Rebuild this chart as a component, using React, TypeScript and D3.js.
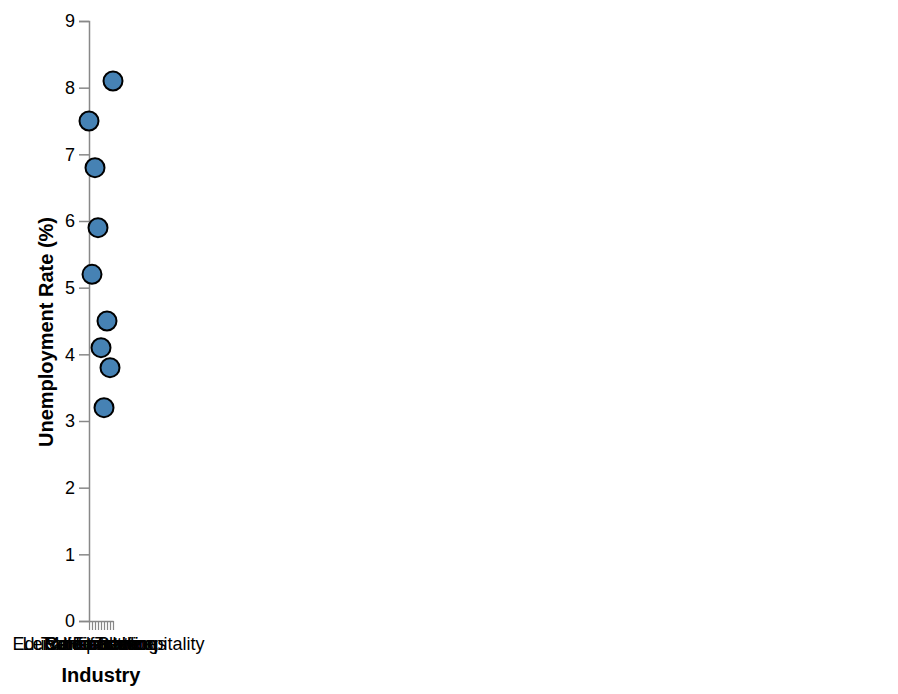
import React, { useEffect, useRef } from 'react'
import * as d3 from 'd3'

const industries = [
    "Education Services",
    "Retail Trade",
    "Construction",
    "Transportation",
    "Manufacturing",
    "Finance",
    "Information",
    "Healthcare",
    "Leisure and Hospitality",
]
const unemploymentRates = [7.5, 5.2, 6.8, 5.9, 4.1, 3.2, 4.5, 3.8, 8.1]
const yTicks = [0, 1, 2, 3, 4, 5, 6, 7, 8, 9]

const width = 898
const height = 694

export default function App() {
    const svgRef = useRef<SVGSVGElement>(null)

    useEffect(() => {
        if (!svgRef.current) return
        const svg = d3.select(svgRef.current)
        svg.selectAll("*").remove()

        const font = "'Liberation Sans', Arial, Helvetica, sans-serif"
        const axisColor = "#888"

        const x = d3.scalePoint<string>()
            .domain(industries)
            .range([89, 113])

        const y = d3.scaleLinear()
            .domain([0, 9])
            .range([621, 21])

        const data = industries.map((name, i) => ({ name, rate: unemploymentRates[i] }))

        // Y axis
        const yAxis = svg.append("g")
            .attr("transform", `translate(${x.range()[0]},0)`)
            .call(d3.axisLeft(y).tickValues(yTicks).tickSize(10).tickPadding(4))
        yAxis.select(".domain").attr("stroke", axisColor).attr("stroke-width", 1.5)
        yAxis.selectAll(".tick line").attr("stroke", axisColor).attr("stroke-width", 1.5)
        yAxis.selectAll(".tick text")
            .attr("fill", "#000")
            .style("font-family", font)
            .style("font-size", "18px")

        // X axis
        const xAxis = svg.append("g")
            .attr("transform", `translate(0,${y(0)})`)
            .call(d3.axisBottom(x).tickSize(9).tickPadding(7).tickSizeOuter(0))
        xAxis.select(".domain").attr("stroke", axisColor).attr("stroke-width", 1.5)
        xAxis.selectAll(".tick line").attr("stroke", axisColor).attr("stroke-width", 1.2)
        xAxis.selectAll(".tick text")
            .attr("fill", "#000")
            .style("font-family", font)
            .style("font-size", "18px")

        // Axis titles
        svg.append("text")
            .attr("x", (x.range()[0] + x.range()[1]) / 2)
            .attr("y", 682)
            .attr("text-anchor", "middle")
            .style("font-family", font)
            .style("font-size", "20px")
            .style("font-weight", "bold")
            .text("Industry")

        svg.append("text")
            .attr("transform", `translate(53,332) rotate(-90)`)
            .attr("text-anchor", "middle")
            .style("font-family", font)
            .style("font-size", "20px")
            .style("font-weight", "bold")
            .text("Unemployment Rate (%)")

        // Points
        svg.append("g")
            .selectAll("circle")
            .data(data)
            .enter().append("circle")
            .attr("cx", d => x(d.name) as number)
            .attr("cy", d => y(d.rate))
            .attr("r", 9.5)
            .attr("fill", "#4682b4")
            .attr("stroke", "#000")
            .attr("stroke-width", 2)
    }, [])

    return (
        <svg
            ref={svgRef}
            width={width}
            height={height}
            viewBox={`0 0 ${width} ${height}`}
            style={{ position: 'absolute', left: 0, top: 0, background: '#fff' }}
        />
    )
}
